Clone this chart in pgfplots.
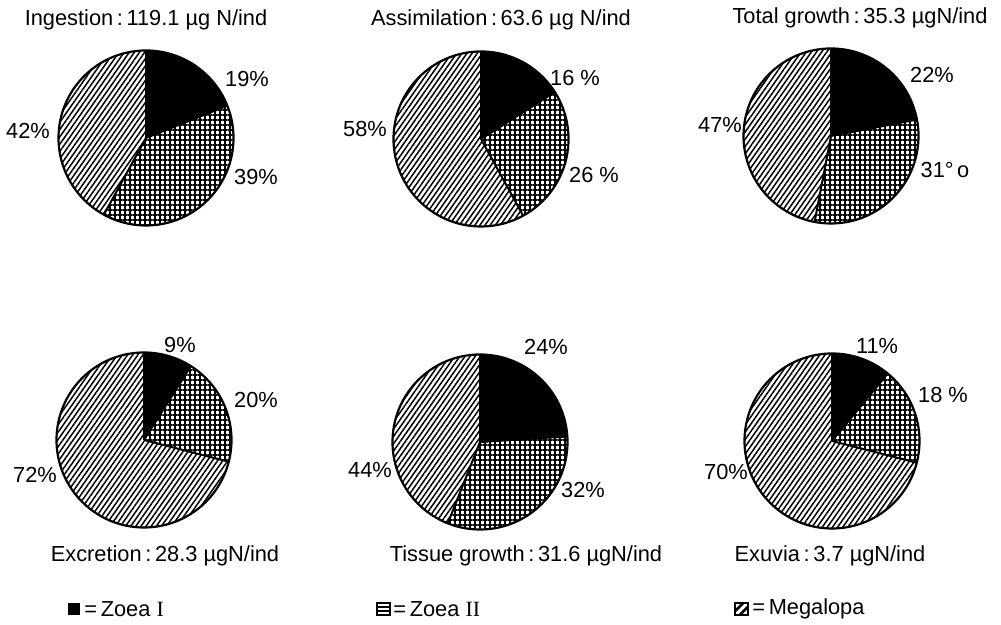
\documentclass[border=0pt]{standalone}
\usepackage{fontspec}
\setmainfont{Liberation Sans}
\newfontfamily\romfont{Liberation Serif}
\usepackage{pgfplots}
\pgfplotsset{compat=1.18}
\usetikzlibrary{patterns.meta}

\def\R{43.75pt}
\tikzset{
  gridpat/.style={pattern={Hatch[angle=0,distance=2.5pt,line width=0.8pt]}},
  hatchpat/.style={pattern={Lines[angle=55,distance=2.1pt,line width=0.75pt]}},
  lbl/.style={font=\fontsize{10.9}{13}\selectfont, inner sep=0pt},
}
% #1,#2 centre (px), #3 Zoea I %, #4 Zoea II %, #5 Megalopa %
\newcommand\pie[5]{%
  \fill[black] (axis cs:#1,#2) -- ++(90:\R) arc[start angle=90, end angle={90-3.6*#3}, radius=\R] -- cycle;
  \fill[gridpat] (axis cs:#1,#2) -- ++({90-3.6*#3}:\R) arc[start angle={90-3.6*#3}, end angle={90-3.6*(#3+#4)}, radius=\R] -- cycle;
  \fill[hatchpat] (axis cs:#1,#2) -- ++({90-3.6*(#3+#4)}:\R) arc[start angle={90-3.6*(#3+#4)}, end angle=-270, radius=\R] -- cycle;
  \draw[line width=1.1pt] (axis cs:#1,#2) circle[radius=\R];
  \draw[line width=1pt] (axis cs:#1,#2) -- ++(90:\R)
     (axis cs:#1,#2) -- ++({90-3.6*#3}:\R)
     (axis cs:#1,#2) -- ++({90-3.6*(#3+#4)}:\R);
}

\begin{document}
\fontsize{10.9}{13}\selectfont
\begin{tikzpicture}
\begin{axis}[
    x=0.5pt, y=0.5pt,
    xmin=0, xmax=1001, ymin=0, ymax=625,
    hide axis, clip=false,
  ]
  \path (axis cs:0,0) rectangle (axis cs:1001,625);

  % top row
  \pie{146}{487}{19}{39}{42}
  \pie{481}{486}{16}{26}{58}
  \pie{831}{489}{22}{31}{47}
  % bottom row
  \pie{144}{185}{9}{20}{72}
  \pie{480}{183}{24}{32}{44}
  \pie{832}{184}{11}{18}{70}

  % titles
  \node[lbl] at (axis cs:146,605) {Ingestion\,:\,119.1 µg N/ind};
  \node[lbl] at (axis cs:501,605) {Assimilation\,:\,63.6 µg N/ind};
  \node[lbl] at (axis cs:860,607) {Total growth\,:\,35.3 µgN/ind};
  \node[lbl] at (axis cs:165,69) {Excretion\,:\,28.3 µgN/ind};
  \node[lbl] at (axis cs:526,69) {Tissue growth\,:\,31.6 µgN/ind};
  \node[lbl] at (axis cs:830,69) {Exuvia\,:\,3.7 µgN/ind};

  % percentages
  \node[lbl] at (axis cs:247,546) {19\%};
  \node[lbl] at (axis cs:256,448) {39\%};
  \node[lbl] at (axis cs:28,494) {42\%};
  \node[lbl] at (axis cs:575,547) {16 \%};
  \node[lbl] at (axis cs:594,450) {26 \%};
  \node[lbl] at (axis cs:365,496) {58\%};
  \node[lbl] at (axis cs:932,550) {22\%};
  \node[lbl] at (axis cs:945,455) {31°\,o};
  \node[lbl] at (axis cs:720,500) {47\%};
  \node[lbl] at (axis cs:180,280) {9\%};
  \node[lbl] at (axis cs:256,225) {20\%};
  \node[lbl] at (axis cs:35,150) {72\%};
  \node[lbl] at (axis cs:546,278) {24\%};
  \node[lbl] at (axis cs:583,135) {32\%};
  \node[lbl] at (axis cs:370,155) {44\%};
  \node[lbl] at (axis cs:877,279) {11\%};
  \node[lbl] at (axis cs:943,230) {18 \%};
  \node[lbl] at (axis cs:726,153) {70\%};

  % legend
  \fill[black] (axis cs:68,10) rectangle (axis cs:80,22);
  \node[lbl, anchor=west] at (axis cs:84,16) {=\,Zoea {\romfont I}};
  \draw[line width=0.8pt] (axis cs:377,10) rectangle (axis cs:390,22)
     (axis cs:377,14) -- (axis cs:390,14) (axis cs:377,18) -- (axis cs:390,18);
  \node[lbl, anchor=west] at (axis cs:393,16) {=\,Zoea {\romfont II}};
  \draw[line width=0.8pt, pattern={Lines[angle=45,distance=3pt,line width=1.3pt]}] (axis cs:735,10) rectangle (axis cs:748,22);
  \node[lbl, anchor=west] at (axis cs:752,16) {=\,Megalopa};
\end{axis}
\end{tikzpicture}
\end{document}
